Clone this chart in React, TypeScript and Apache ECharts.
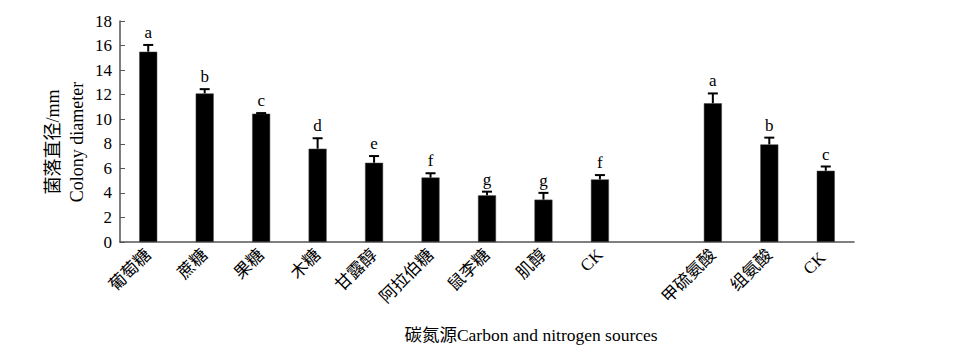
import React, { useEffect, useRef } from "react";
import * as echarts from "echarts";

const categories = ["葡萄糖", "蔗糖", "果糖", "木糖", "甘露醇", "阿拉伯糖", "鼠李糖", "肌醇", "CK", "", "甲硫氨酸", "组氨酸", "CK "];
const means: (number | null)[] = [15.5, 12.1, 10.45, 7.6, 6.45, 5.25, 3.8, 3.45, 5.1, null, 11.3, 7.95, 5.8];
const errors: (number | null)[] = [0.55, 0.35, 0.05, 0.85, 0.55, 0.35, 0.3, 0.55, 0.35, null, 0.8, 0.55, 0.35];
const letters: string[] = ["a", "b", "c", "d", "e", "f", "g", "g", "f", "", "a", "b", "c"];
const yTicks = { min: 0, max: 18, interval: 2 };

const FONT = "'Liberation Serif', 'Times New Roman', 'Noto Sans CJK SC', serif";
const AXIS_COLOR = "#555";

export default function App() {
  const ref = useRef<HTMLDivElement>(null);
  useEffect(() => {
    if (!ref.current) return;
    const chart = echarts.init(ref.current, null, { renderer: "svg" });
    const errData = means
      .map((m, i) => (m == null ? null : [i, m, errors[i], letters[i]]))
      .filter((d) => d != null);
    chart.setOption({
      animation: false,
      grid: { left: 120, right: 120, top: 21, bottom: 113, containLabel: false },
      xAxis: {
        type: "category",
        data: categories,
        axisLine: { lineStyle: { color: AXIS_COLOR, width: 1.5 } },
        axisTick: { inside: true, length: 5, lineStyle: { color: AXIS_COLOR } },
        axisLabel: {
          rotate: 45,
          fontFamily: FONT,
          fontSize: 17,
          color: "#000",
          margin: 10,
          interval: 0,
        },
      },
      yAxis: {
        type: "value",
        min: yTicks.min,
        max: yTicks.max,
        interval: yTicks.interval,
        splitLine: { show: false },
        axisLine: { show: true, lineStyle: { color: AXIS_COLOR, width: 1.5 } },
        axisTick: { show: true, inside: true, length: 5, lineStyle: { color: AXIS_COLOR } },
        axisLabel: { fontFamily: FONT, fontSize: 17, color: "#000", margin: 8 },
      },
      graphic: [
        {
          type: "text",
          x: 53,
          y: 142,
          rotation: Math.PI / 2,
          style: {
            text: "菌落直径/mm",
            fontFamily: FONT,
            fontSize: 18,
            fill: "#000",
            align: "center",
            verticalAlign: "middle",
          },
        },
        {
          type: "text",
          x: 77,
          y: 142,
          rotation: Math.PI / 2,
          style: {
            text: "Colony diameter",
            fontFamily: FONT,
            fontSize: 18,
            fill: "#000",
            align: "center",
            verticalAlign: "middle",
          },
        },
        {
          type: "text",
          x: 531,
          y: 335,
          style: {
            text: "碳氮源Carbon and nitrogen sources",
            fontFamily: FONT,
            fontSize: 17.5,
            fill: "#000",
            align: "center",
            verticalAlign: "middle",
          },
        },
      ],
      series: [
        {
          type: "bar",
          data: means,
          barWidth: 18,
          itemStyle: { color: "#000", borderColor: "#444", borderWidth: 0.5 },
          z: 2,
        },
        {
          type: "custom",
          data: errData,
          z: 3,
          renderItem: (params: any, api: any) => {
            const i = api.value(0);
            const m = api.value(1);
            const e = api.value(2);
            const letter = letters[i];
            const base = api.coord([i, m]);
            const top = api.coord([i, m + e]);
            const half = 5;
            return {
              type: "group",
              children: [
                {
                  type: "line",
                  shape: { x1: base[0], y1: base[1], x2: top[0], y2: top[1] },
                  style: { stroke: "#000", lineWidth: 2 },
                },
                {
                  type: "line",
                  shape: { x1: top[0] - half, y1: top[1], x2: top[0] + half, y2: top[1] },
                  style: { stroke: "#000", lineWidth: 2 },
                },
                {
                  type: "text",
                  x: top[0],
                  y: top[1] - 4,
                  style: {
                    text: letter,
                    fontFamily: FONT,
                    fontSize: 17,
                    fill: "#000",
                    align: "center",
                    verticalAlign: "bottom",
                  },
                },
              ],
            };
          },
        },
      ],
    });
    return () => chart.dispose();
  }, []);
  return <div ref={ref} style={{ width: 974, height: 355, position: "absolute", left: 0, top: 0 }} />;
}
